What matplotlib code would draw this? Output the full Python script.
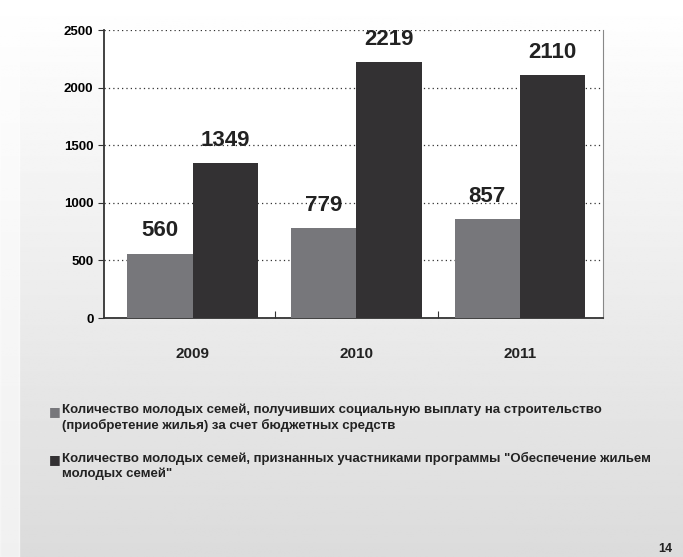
import numpy as np
import matplotlib
matplotlib.use('Agg')
import matplotlib.pyplot as plt
from matplotlib import font_manager

years = ['2009', '2010', '2011']
paid = [560, 779, 857]
participants = [1349, 2219, 2110]
legend_labels = [
    'Количество молодых семей, получивших социальную выплату на строительство\n'
    '(приобретение жилья) за счет бюджетных средств',
    'Количество молодых семей, признанных участниками программы "Обеспечение жильем\n'
    'молодых семей"',
]
yticks = [0, 500, 1000, 1500, 2000, 2500]

names = {f.name for f in font_manager.fontManager.ttflist}
fam = ['Liberation Sans Narrow'] if 'Liberation Sans Narrow' in names else ['Liberation Sans']
plt.rcParams['font.family'] = fam + ['DejaVu Sans']

fig = plt.figure(figsize=(6.83, 5.57), dpi=100)

# gradient background
bg = fig.add_axes([0, 0, 1, 1], zorder=-10)
grad = np.linspace(1.0, 0.86, 256).reshape(-1, 1)
bg.imshow(np.repeat(grad, 2, axis=1), cmap='gray', vmin=0, vmax=1,
          aspect='auto', extent=[0, 1, 0, 1])
bg.axvspan(0, 0.028, color='white', alpha=0.6)
bg.set_xlim(0, 1)
bg.set_ylim(0, 1)
bg.axis('off')

ax = fig.add_axes([0.152, 0.429, 0.731, 0.517])
ax.set_facecolor('white')
x = np.arange(len(years))
w = 0.4
b1 = ax.bar(x - w / 2, paid, w, color='#77777b', zorder=3)
b2 = ax.bar(x + w / 2, participants, w, color='#333133', zorder=3)

for bars, vals in ((b1, paid), (b2, participants)):
    for r, v in zip(bars, vals):
        ax.text(r.get_x() + r.get_width() / 2, v + 105, str(v),
                ha='center', va='bottom', fontsize=16, fontweight='bold',
                color='#222222')

ax.set_xlim(-0.544, 2.508)
ax.set_ylim(0, 2500)
ax.set_yticks(yticks)
ax.set_yticklabels([str(t) for t in yticks], fontsize=9.5, fontweight='bold')
ax.set_xticks([0.5, 1.5])
ax.set_xticklabels([])
ax.tick_params(axis='x', length=5, direction='in', color='#333')
ax.tick_params(axis='y', length=4, color='#333')
for i, yr in enumerate(years):
    ax.text(i, -250, yr, ha='center', va='top', fontsize=11,
            fontweight='bold', color='#222')
ax.grid(axis='y', linestyle=(0, (1, 2.5)), color='#333', lw=0.9, zorder=1)
ax.spines['left'].set_color('#333')
ax.spines['left'].set_linewidth(1.3)
ax.spines['bottom'].set_color('#333')
ax.spines['bottom'].set_linewidth(1.3)
ax.spines['right'].set_color('#888')
ax.spines['top'].set_visible(False)

# legend
ly = [0.272, 0.186]
colors = ['#77777b', '#333133']
for yy, c, lab in zip(ly, colors, legend_labels):
    fig.text(0.071, yy + 0.001, '■', color=c, fontsize=9, va='top', ha='left',
             family='DejaVu Sans')
    fig.text(0.091, yy + 0.003, lab, fontsize=9.5, fontweight='bold',
             va='top', ha='left', color='#222', linespacing=1.3)

fig.text(0.985, 0.003, '14', fontsize=9, fontweight='bold', ha='right',
         va='bottom', color='#222')

fig.savefig('out.png', dpi=100)
